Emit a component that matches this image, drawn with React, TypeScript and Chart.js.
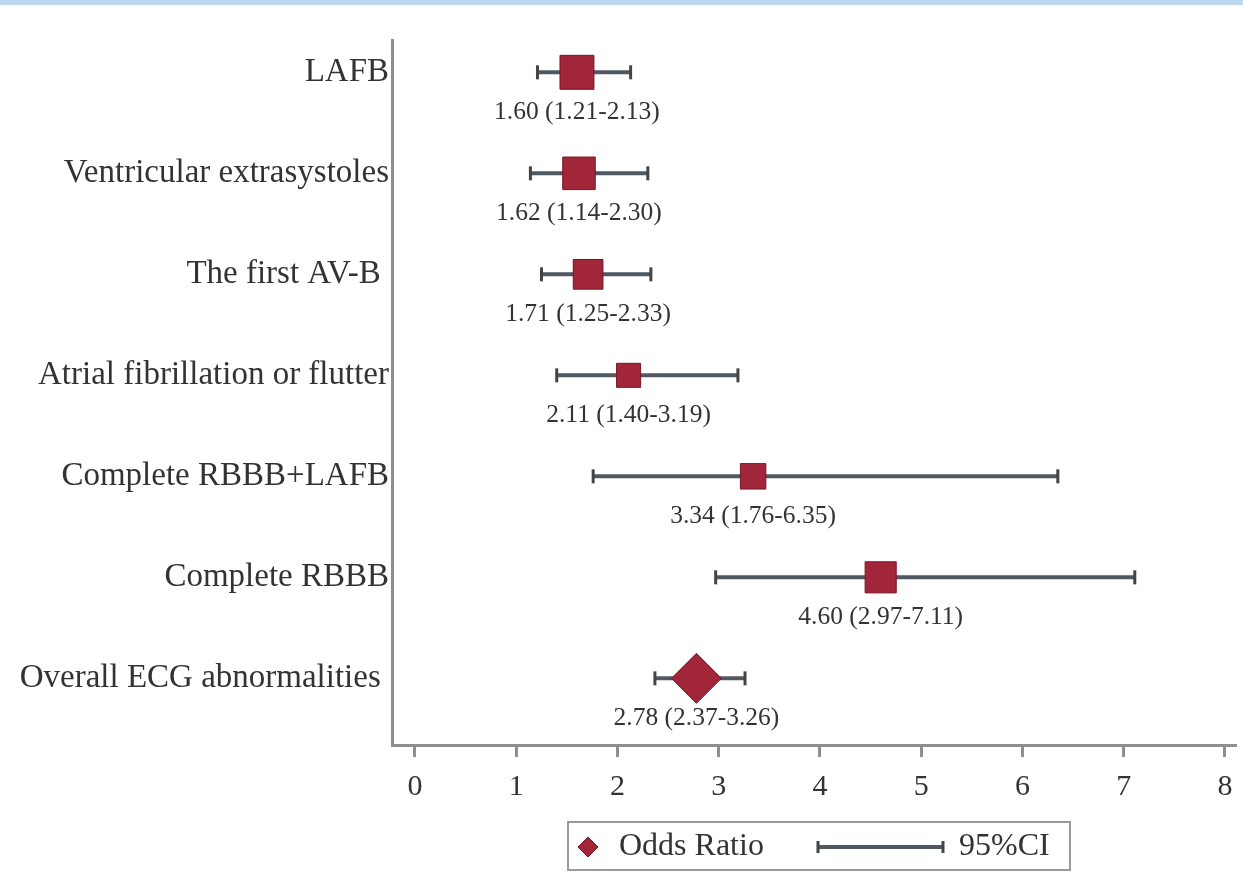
import React, { useEffect, useRef } from "react";
import { Chart, registerables } from "chart.js";

Chart.register(...registerables);

const categories = [
  "LAFB",
  "Ventricular extrasystoles",
  "The first AV-B ",
  "Atrial fibrillation or flutter",
  "Complete RBBB+LAFB",
  "Complete RBBB",
  "Overall ECG abnormalities ",
];
const oddsRatios = [1.6, 1.62, 1.71, 2.11, 3.34, 4.6, 2.78];
const lowerCI = [1.21, 1.14, 1.25, 1.4, 1.76, 2.97, 2.37];
const upperCI = [2.13, 2.3, 2.33, 3.19, 6.35, 7.11, 3.26];
const xTickValues = [0, 1, 2, 3, 4, 5, 6, 7, 8];
const legendLabels = ["Odds Ratio", "95%CI"];

// style only (marker radius for square markers, pooled diamond)
const squareRadius = [24, 23, 21, 17, 18, 22];
const diamondRadius = 25;

const SERIF = '"Liberation Serif", "Times New Roman", serif';
const RED = "#a2263a";
const RED_BORDER = "#7a1626";
const CI_COLOR = "#4f5863";
const AXIS = "#8f8f8f";
const TEXT = "#333333";

const annotatePlugin = {
  id: "annotate",
  afterDatasetsDraw(chart: any) {
    const { ctx } = chart;
    const x = chart.scales.x;
    const y = chart.scales.y;
    ctx.save();
    ctx.font = `25.5px ${SERIF}`;
    ctx.fillStyle = TEXT;
    ctx.textAlign = "center";
    ctx.textBaseline = "middle";
    categories.forEach((_, i) => {
      const txt = `${oddsRatios[i].toFixed(2)} (${lowerCI[i].toFixed(2)}-${upperCI[i].toFixed(2)})`;
      ctx.fillText(txt, x.getPixelForValue(oddsRatios[i]), y.getPixelForValue(i) + 40);
    });
    ctx.restore();
  },
  afterDraw(chart: any) {
    const { ctx } = chart;
    ctx.save();
    // legend box
    const bx = 568, by = 822, bw = 502, bh = 48;
    ctx.strokeStyle = "#9a9a9a";
    ctx.lineWidth = 2;
    ctx.strokeRect(bx, by, bw, bh);
    const cy = by + bh / 2 + 1;
    // diamond
    const dx = 588, r = 10;
    ctx.beginPath();
    ctx.moveTo(dx - r, cy);
    ctx.lineTo(dx, cy - r);
    ctx.lineTo(dx + r, cy);
    ctx.lineTo(dx, cy + r);
    ctx.closePath();
    ctx.fillStyle = RED;
    ctx.fill();
    ctx.strokeStyle = RED_BORDER;
    ctx.lineWidth = 1;
    ctx.stroke();
    ctx.font = `32px ${SERIF}`;
    ctx.fillStyle = TEXT;
    ctx.textAlign = "left";
    ctx.textBaseline = "middle";
    ctx.fillText(legendLabels[0], 619, cy);
    // CI symbol
    ctx.strokeStyle = CI_COLOR;
    ctx.lineWidth = 4;
    ctx.beginPath();
    ctx.moveTo(818, cy);
    ctx.lineTo(943, cy);
    ctx.stroke();
    ctx.strokeStyle = "#444";
    ctx.lineWidth = 3;
    ctx.beginPath();
    ctx.moveTo(818, cy - 6);
    ctx.lineTo(818, cy + 6);
    ctx.moveTo(943, cy - 6);
    ctx.lineTo(943, cy + 6);
    ctx.stroke();
    ctx.fillText(legendLabels[1], 959, cy);
    ctx.restore();
  },
};

export default function App() {
  const canvasRef = useRef<HTMLCanvasElement | null>(null);

  useEffect(() => {
    if (!canvasRef.current) return;
    const n = categories.length;
    const ciDatasets = categories.map((_, i) => ({
      type: "line" as const,
      label: "ci" + i,
      data: [
        { x: lowerCI[i], y: i },
        { x: upperCI[i], y: i },
      ],
      borderColor: CI_COLOR,
      borderWidth: 4,
      pointStyle: "line" as const,
      rotation: 90,
      pointRadius: 7,
      pointBorderWidth: 3,
      pointBorderColor: "#444",
      pointBackgroundColor: "#444",
      showLine: true,
      order: 1,
    }));

    const chart = new Chart(canvasRef.current, {
      type: "scatter",
      data: {
        datasets: [
          {
            label: "Odds Ratio",
            data: oddsRatios.slice(0, n - 1).map((v, i) => ({ x: v, y: i })),
            pointStyle: "rect",
            pointRadius: squareRadius,
            backgroundColor: RED,
            borderColor: RED_BORDER,
            borderWidth: 1,
            order: 0,
          } as any,
          {
            label: "Overall",
            data: [{ x: oddsRatios[n - 1], y: n - 1 }],
            pointStyle: "rectRot",
            pointRadius: diamondRadius,
            backgroundColor: RED,
            borderColor: RED_BORDER,
            borderWidth: 1,
            order: 0,
          } as any,
          ...ciDatasets,
        ],
      },
      options: {
        animation: false,
        responsive: true,
        maintainAspectRatio: false,
        layout: { autoPadding: false, padding: { top: 40, right: 8, left: 0, bottom: 0 } },
        plugins: {
          legend: { display: false },
          tooltip: { enabled: false },
        },
        scales: {
          x: {
            type: "linear",
            min: -0.227,
            max: 8.1,
            afterBuildTicks: (s: any) => {
              s.ticks = xTickValues.map((v) => ({ value: v }));
            },
            afterFit: (s: any) => {
              s.height = 127;
              s.paddingLeft = 0;
              s.paddingRight = 0;
            },
            ticks: {
              font: { family: SERIF, size: 30 },
              color: TEXT,
              padding: 12,
              callback: (v: any) => String(v),
            },
            grid: {
              display: true,
              drawOnChartArea: false,
              drawTicks: true,
              tickLength: 12,
              color: AXIS,
              lineWidth: 3,
            },
            border: { display: true, color: AXIS, width: 3 },
          },
          y: {
            type: "linear",
            reverse: true,
            min: -0.32,
            max: 6.66,
            afterBuildTicks: (s: any) => {
              s.ticks = categories.map((_, i) => ({ value: i }));
            },
            afterFit: (s: any) => {
              s.width = 392;
              s.paddingTop = 0;
              s.paddingBottom = 0;
            },
            ticks: {
              font: { family: SERIF, size: 33 },
              color: TEXT,
              padding: 3,
              autoSkip: false,
              callback: (v: any) => categories[v as number] ?? "",
            },
            grid: { display: false, drawTicks: false },
            border: { display: true, color: AXIS, width: 3 },
          },
        },
      },
      plugins: [annotatePlugin],
    } as any);

    return () => chart.destroy();
  }, []);

  return (
    <div
      style={{
        position: "fixed",
        left: 0,
        top: 0,
        width: 1243,
        height: 872,
        background: "#ffffff",
        overflow: "hidden",
      }}
    >
      <div style={{ position: "absolute", left: 0, top: 0, width: 1243, height: 5, background: "#bdd7ee" }} />
      <canvas ref={canvasRef} style={{ display: "block" }} />
    </div>
  );
}
